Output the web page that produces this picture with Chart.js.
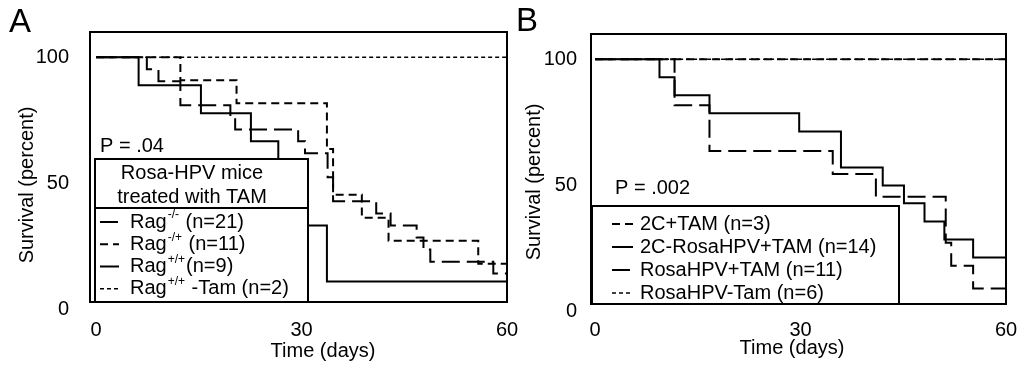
<!DOCTYPE html>
<html>
<head>
<meta charset="utf-8">
<script src="https://cdn.jsdelivr.net/npm/chart.js@4.4.1/dist/chart.umd.min.js"></script>
<style>
  body { margin: 0; background: #fff; }
  #wrap { position: relative; width: 1024px; height: 370px; }
  canvas { position: absolute; left: 0; top: 0; }
</style>
</head>
<body>
<div id="wrap">
  <canvas id="panelA" width="1024" height="370"></canvas>
  <canvas id="panelB" width="1024" height="370"></canvas>
</div>
<script>
// ---- data (days, survival %) ----
// panel A
const ragKoKoDays = [0, 7.4, 9.1, 12.3, 19.6, 20.3, 29.5, 30.5, 33.8, 34.6, 40.9, 43.0, 46.8, 47.8, 48.8, 58.0, 60];
const ragKoKoSurv = [100, 95.2, 90.5, 81.0, 76.2, 71.4, 66.7, 61.9, 52.4, 42.9, 38.1, 33.3, 28.6, 23.8, 19.0, 14.3, 14.3];
const ragKoWtDays = [0, 12.3, 20.5, 33.7, 34.6, 38.8, 42.7, 55.8, 60];
const ragKoWtSurv = [100, 90.9, 81.8, 63.6, 45.5, 36.4, 27.3, 18.2, 18.2];
const ragWtDays = [0, 6.2, 15.3, 22.6, 26.6, 28.5, 30.0, 33.7, 60];
const ragWtSurv = [100, 88.9, 77.8, 66.7, 55.6, 44.4, 33.3, 11.1, 11.1];
const ragWtNoTamDays = [0, 60];
const ragWtNoTamSurv = [100, 100];

// panel B
const tamOnlyDays = [0, 60];
const tamOnlySurv = [100, 100];
const dblDays = [0, 9.4, 11.6, 16.7, 29.8, 35.9, 42.0, 45.1, 48.1, 51.0, 55.2, 60];
const dblSurv = [100, 92.9, 85.7, 78.6, 71.4, 57.1, 50.0, 42.9, 35.7, 28.6, 21.4, 21.4];
const rosaDays = [0, 11.6, 16.7, 34.7, 41.0, 51.2, 52.0, 55.2, 60];
const rosaSurv = [100, 81.8, 63.6, 54.5, 45.5, 27.3, 18.2, 9.1, 9.1];
const rosaNoTamDays = [0, 60];
const rosaNoTamSurv = [100, 100];

const xTickValues = [0, 30, 60];
const yTickValues = [0, 50, 100];

const legendATitle = ['Rosa-HPV mice', 'treated with TAM'];
const legendALabels = [['Rag', '-/-', ' (n=21)'], ['Rag', '-/+', ' (n=11)'], ['Rag', '+/+', '(n=9)'], ['Rag', '+/+', ' -Tam (n=2)']];
const legendBLabels = [['2C+TAM (n=3)'], ['2C-RosaHPV+TAM (n=14)'], ['RosaHPV+TAM (n=11)'], ['RosaHPV-Tam (n=6)']];

const FONT = "'Liberation Sans', Arial, Helvetica, sans-serif";
const LONG_DASH = [18, 7];
const SHORT_DASH = [8, 5];
const FINE_DASH = [4, 3];

function steps(days, surv) {
    return days.map((d, i) => ({ x: d, y: surv[i] }));
}

function series(days, surv, dash, width) {
    return {
        data: steps(days, surv),
        borderColor: '#000',
        borderWidth: width,
        borderDash: dash,
        stepped: true,
        pointRadius: 0,
        fill: false
    };
}

// frame, boxed legend, p value, axis titles and panel letter
const panelDecor = {
    id: 'panelDecor',
    afterDatasetsDraw(chart, args, opts) {
        const ctx = chart.ctx;
        const area = chart.chartArea;
        const lg = opts.legend;
        ctx.save();
        ctx.fillStyle = '#fff';
        ctx.fillRect(lg.left, lg.top, lg.right - lg.left, lg.bottom - lg.top);
        ctx.strokeStyle = '#000';
        ctx.lineWidth = 2;
        ctx.strokeRect(lg.left, lg.top, lg.right - lg.left, lg.bottom - lg.top);
        ctx.fillStyle = '#000';
        ctx.textBaseline = 'middle';
        if (lg.title) {
            ctx.font = '20px ' + FONT;
            ctx.textAlign = 'center';
            lg.title.forEach((t, i) => ctx.fillText(t, lg.titleX, lg.titleY[i]));
            ctx.beginPath();
            ctx.moveTo(lg.left, lg.dividerY);
            ctx.lineTo(lg.right, lg.dividerY);
            ctx.stroke();
        }
        ctx.textAlign = 'left';
        lg.labels.forEach((parts, i) => {
            const ds = chart.data.datasets[i];
            const y = lg.itemY[i];
            ctx.lineWidth = ds.borderWidth;
            ctx.setLineDash(ds.borderDash || []);
            ctx.beginPath();
            ctx.moveTo(lg.sampleX[0], y);
            ctx.lineTo(lg.sampleX[1], y);
            ctx.stroke();
            ctx.setLineDash([]);
            let x = lg.textX;
            ctx.font = '20px ' + FONT;
            ctx.fillText(parts[0], x, y);
            x += ctx.measureText(parts[0]).width;
            if (parts.length > 1) {
                ctx.font = '12px ' + FONT;
                ctx.fillText(parts[1], x + 1, y - 7);
                x += ctx.measureText(parts[1]).width + 2;
                ctx.font = '20px ' + FONT;
                ctx.fillText(parts[2], x, y);
            }
        });
        // plot frame
        ctx.lineWidth = 2;
        ctx.strokeRect(area.left, area.top, area.right - area.left, area.bottom - area.top);
        ctx.font = '20px ' + FONT;
        // p value
        ctx.fillText(opts.pText, opts.pX, opts.pY);
        // axis titles (off-centre in the original)
        ctx.textAlign = 'center';
        ctx.fillText(opts.xTitle, opts.xTitleX, opts.xTitleY);
        ctx.save();
        ctx.translate(opts.yTitleX, opts.yTitleY);
        ctx.rotate(-Math.PI / 2);
        ctx.fillText(opts.yTitle, 0, 0);
        ctx.restore();
        // panel letter
        ctx.textAlign = 'left';
        ctx.font = '33px ' + FONT;
        ctx.textBaseline = 'alphabetic';
        ctx.fillText(opts.letter, opts.letterX, opts.letterY);
        ctx.restore();
    }
};

function makePanel(id, datasets, p) {
    return new Chart(document.getElementById(id), {
        type: 'line',
        data: { datasets: datasets },
        options: {
            responsive: false,
            animation: false,
            layout: { padding: p.padding },
            plugins: {
                legend: { display: false },
                tooltip: { enabled: false },
                panelDecor: p.decor
            },
            scales: {
                x: {
                    type: 'linear',
                    min: p.xMin,
                    max: 60,
                    grid: { display: false },
                    border: { display: false },
                    afterBuildTicks: (s) => { s.ticks = xTickValues.map(v => ({ value: v })); },
                    afterFit: (s) => { s.height = p.xHeight; },
                    ticks: { color: '#000', padding: p.xTickPad, font: { family: FONT, size: 20 } },
                    title: { display: false }
                },
                y: {
                    min: 3,
                    max: 110,
                    grid: { display: false },
                    border: { display: false },
                    afterBuildTicks: (s) => { s.ticks = yTickValues.map(v => ({ value: v })); },
                    afterFit: (s) => { s.width = p.yWidth; },
                    ticks: { color: '#000', padding: p.yTickPad, font: { family: FONT, size: 20 } },
                    title: { display: false }
                }
            }
        },
        plugins: [panelDecor]
    });
}

makePanel('panelA', [
    series(ragKoKoDays, ragKoKoSurv, LONG_DASH, 2),
    series(ragKoWtDays, ragKoWtSurv, SHORT_DASH, 2),
    series(ragWtDays, ragWtSurv, [], 2),
    series(ragWtNoTamDays, ragWtNoTamSurv, FINE_DASH, 1.5)
], {
    padding: { left: 0, top: 32, right: 517, bottom: 0 },
    xMin: -0.9, xHeight: 68, xTickPad: 8,
    yWidth: 90, yTickPad: 13,
    decor: {
        letter: 'A', letterX: 9, letterY: 32,
        pText: 'P = .04', pX: 100, pY: 146,
        xTitle: 'Time (days)', xTitleX: 323, xTitleY: 351,
        yTitle: 'Survival (percent)', yTitleX: 27, yTitleY: 185,
        legend: {
            left: 95, right: 308, top: 159, bottom: 302,
            title: legendATitle, titleX: 192, titleY: [173, 197], dividerY: 208,
            labels: legendALabels, itemY: [222, 244.3, 266.5, 288.7],
            sampleX: [100, 119], textX: 130
        }
    }
});

makePanel('panelB', [
    series(tamOnlyDays, tamOnlySurv, SHORT_DASH, 2),
    series(dblDays, dblSurv, [], 2),
    series(rosaDays, rosaSurv, LONG_DASH, 2),
    series(rosaNoTamDays, rosaNoTamSurv, FINE_DASH, 1.5)
], {
    padding: { left: 521, top: 34, right: 18, bottom: 0 },
    xMin: -0.6, xHeight: 66, xTickPad: 6,
    yWidth: 70, yTickPad: 6,
    decor: {
        letter: 'B', letterX: 516, letterY: 31,
        pText: 'P = .002', pX: 615, pY: 188,
        xTitle: 'Time (days)', xTitleX: 792, xTitleY: 348,
        yTitle: 'Survival (percent)', yTitleX: 534, yTitleY: 182,
        legend: {
            left: 592, right: 899, top: 206, bottom: 304,
            labels: legendBLabels, itemY: [224, 247, 270, 293],
            sampleX: [612, 633], textX: 640
        }
    }
});
</script>
</body>
</html>
